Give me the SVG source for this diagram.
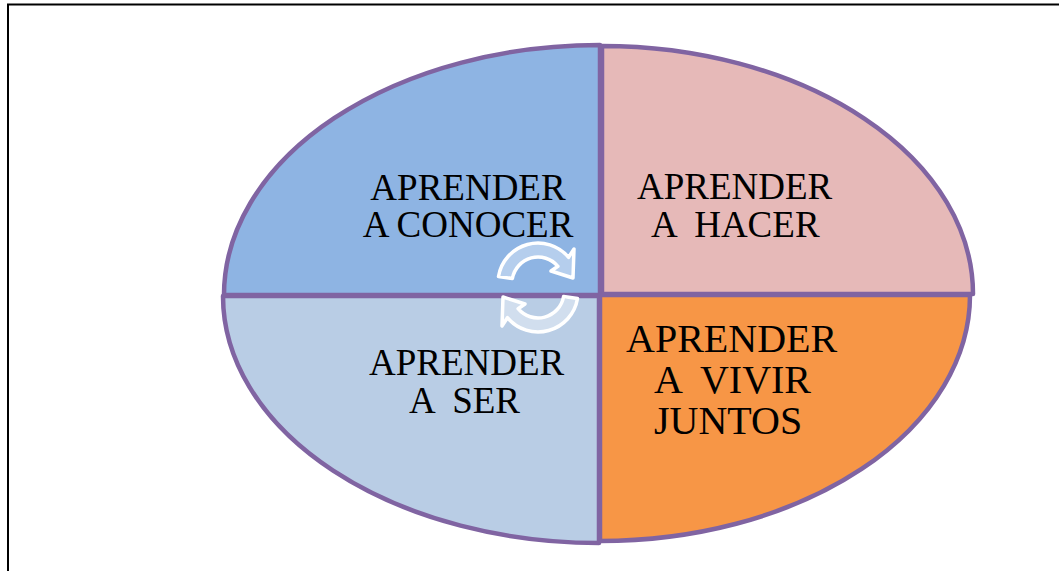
<svg xmlns="http://www.w3.org/2000/svg" width="1059" height="571" viewBox="0 0 1059 571">
<style>
.q{stroke:#8064A2;stroke-width:4.5;stroke-linejoin:round}
.t{font-family:"Liberation Serif","Times New Roman",serif;font-size:37px;fill:#000}
.b{font-size:40px}
.arw{fill:#ffffff;fill-opacity:0.35;stroke:#ffffff;stroke-width:3.5;stroke-linejoin:round}
</style>
<rect x="8" y="4.5" width="1070" height="600" fill="#ffffff" stroke="#000000" stroke-width="2"/>
<g id="aprender-a-conocer">
<path class="q" fill="#8EB4E3" d="M600,295 L224,295 A376,250 0 0 1 600,45 Z"/>
<text class="t" x="468" y="200" text-anchor="middle">APRENDER</text>
<text class="t" x="468" y="237" text-anchor="middle">A CONOCER</text>
</g>
<g id="aprender-a-hacer">
<path class="q" fill="#E6B9B8" d="M602,294 L973,294 A371,248 0 0 0 602,46 Z"/>
<text class="t" x="637" y="199" xml:space="preserve">APRENDER</text>
<text class="t" x="651" y="237" xml:space="preserve">A  HACER</text>
</g>
<g id="aprender-a-ser">
<path class="q" fill="#B9CDE5" d="M599,296 L223,296 A376,247 0 0 0 599,543 Z"/>
<text class="t" x="369" y="375" xml:space="preserve">APRENDER</text>
<text class="t" x="409" y="413" xml:space="preserve">A  SER</text>
</g>
<g id="aprender-a-vivir-juntos">
<path class="q" fill="#F79646" d="M600,295 L970,295 A370,246 0 0 1 600,541 Z"/>
<text class="t b" x="626" y="352" xml:space="preserve">APRENDER</text>
<text class="t b" x="654" y="393" xml:space="preserve">A  VIVIR</text>
<text class="t b" x="654" y="434" xml:space="preserve">JUNTOS</text>
</g>
<g id="connectors">
<path id="cycle-top" class="arw" d="M498.5,276.5 A40,40 0 0 1 568.6,257.3 L574,249 L573,278 L551,271 L557.9,266.3 A26,26 0 0 0 512.4,278.5 Z"/>
<use href="#cycle-top" transform="rotate(180 538 287.5)"/>
</g>
</svg>
